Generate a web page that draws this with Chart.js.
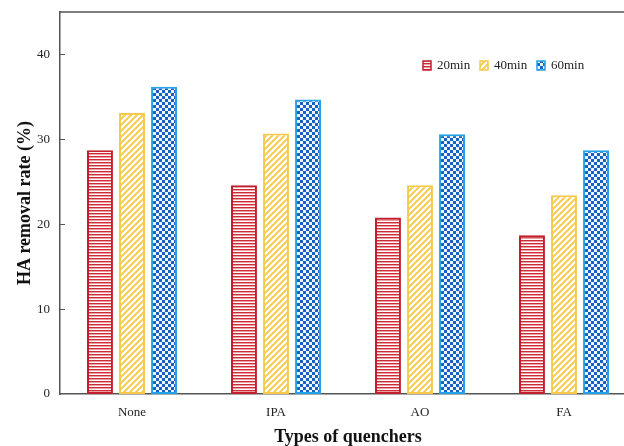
<!DOCTYPE html>
<html>
<head>
<meta charset="utf-8">
<script src="https://cdn.jsdelivr.net/npm/chart.js@4/dist/chart.umd.min.js"></script>
<style>
html,body{margin:0;padding:0;overflow:hidden;background:#fff;width:624px;height:446px;}
#wrap{position:absolute;left:0;top:0;width:640px;height:446px;}
</style>
</head>
<body>
<div id="wrap"><canvas id="c" width="640" height="446"></canvas></div>
<script>
const categories = ["None", "IPA", "AO", "FA"];
const seriesNames = ["20min", "40min", "60min"];
const values20 = [28.7, 24.6, 20.8, 18.7];
const values40 = [33.1, 30.7, 24.6, 23.4];
const values60 = [36.2, 34.7, 30.6, 28.7];
const yTicks = [0, 10, 20, 30, 40];
const yMax = 45;

function makePattern(kind) {
  const t = document.createElement('canvas');
  const g = t.getContext('2d');
  if (kind === 'h') {
    t.width = 4; t.height = 3;
    g.fillStyle = '#fff'; g.fillRect(0,0,4,3);
    g.fillStyle = '#d02a36'; g.fillRect(0,0,4,1);
    g.fillStyle = 'rgba(208,42,54,0.45)'; g.fillRect(0,1,4,1);
  } else if (kind === 'd') {
    t.width = 6; t.height = 6;
    g.fillStyle = '#fff'; g.fillRect(0,0,6,6);
    g.strokeStyle = '#f7cc50'; g.lineWidth = 2;
    g.beginPath();
    g.moveTo(-1,7); g.lineTo(7,-1);
    g.moveTo(-4,4); g.lineTo(4,-4);
    g.moveTo(2,10); g.lineTo(10,2);
    g.stroke();
  } else {
    t.width = 6; t.height = 6;
    g.fillStyle = '#eef6ff'; g.fillRect(0,0,6,6);
    g.fillStyle = '#1760c4';
    g.fillRect(0,0,3,3); g.fillRect(3,3,3,3);
  }
  return g.createPattern(t, 'repeat');
}
const ctx = document.getElementById('c').getContext('2d');
const fills = [makePattern('h'), makePattern('d'), makePattern('c')];
const borders = ['#c21f2c', '#f5c94c', '#22a2e8'];

const serifFont = "'Liberation Serif', 'Times New Roman', serif";

const framePlugin = {
  id: 'frame',
  afterDraw(chart) {
    const c = chart.ctx, a = chart.chartArea, y = chart.scales.y;
    c.save();
    c.strokeStyle = '#555'; c.lineWidth = 1.5;
    c.beginPath(); c.moveTo(a.left, a.top); c.lineTo(a.right + 10, a.top); c.stroke();
    c.beginPath();
    yTicks.forEach(v => {
      if (v === 0) return;
      const py = Math.round(y.getPixelForValue(v)) + 0.5;
      c.moveTo(a.left, py); c.lineTo(a.left + 5, py);
    });
    c.lineWidth = 1; c.stroke();
    // legend
    const items = [{x: 423}, {x: 480}, {x: 537}];
    c.font = "13px " + serifFont;
    c.textBaseline = 'middle';
    items.forEach((it, i) => {
      c.fillStyle = fills[i];
      c.fillRect(it.x, 61, 8, 9);
      c.strokeStyle = borders[i]; c.lineWidth = 1.5;
      c.strokeRect(it.x, 61, 8, 9);
      c.fillStyle = '#222';
      c.fillText(seriesNames[i], it.x + 14, 66);
    });
    c.restore();
  }
};

new Chart(ctx, {
  type: 'bar',
  data: {
    labels: categories,
    datasets: [
      {label: seriesNames[0], data: values20, backgroundColor: fills[0], borderColor: borders[0]},
      {label: seriesNames[1], data: values40, backgroundColor: fills[1], borderColor: borders[1]},
      {label: seriesNames[2], data: values60, backgroundColor: fills[2], borderColor: borders[2]}
    ].map(d => Object.assign(d, {borderWidth: 2, borderSkipped: false, categoryPercentage: 0.667, barPercentage: 0.81}))
  },
  options: {
    responsive: false,
    animation: false,
    devicePixelRatio: 1,
    layout: {padding: {left: 0, right: 4, top: 12, bottom: 0}},
    plugins: {legend: {display: false}, tooltip: {enabled: false}},
    scales: {
      x: {
        grid: {display: false, drawTicks: false},
        border: {display: true, color: '#555', width: 1.5},
        ticks: {padding: 11, color: '#222', font: {family: serifFont, size: 13}},
        title: {display: true, text: 'Types of quenchers', color: '#111', padding: {top: 0, bottom: -2}, font: {family: serifFont, size: 18, weight: 'bold'}},
        afterFit(s) { s.height = 52; s.paddingLeft = 0; s.paddingRight = 0; }
      },
      y: {
        min: 0, max: yMax,
        grid: {display: false, drawTicks: false},
        border: {display: true, color: '#555', width: 1.5},
        ticks: {padding: 10, color: '#222', font: {family: serifFont, size: 13}},
        afterBuildTicks(s) { s.ticks = yTicks.map(v => ({value: v})); },
        title: {display: true, text: 'HA removal rate (%)', color: '#111', padding: {top: 15, bottom: 0}, font: {family: serifFont, size: 18, weight: 'bold'}},
        afterFit(s) { s.width = 60; s.paddingTop = 0; s.paddingBottom = 0; }
      }
    }
  },
  plugins: [framePlugin]
});
</script>
</body>
</html>
